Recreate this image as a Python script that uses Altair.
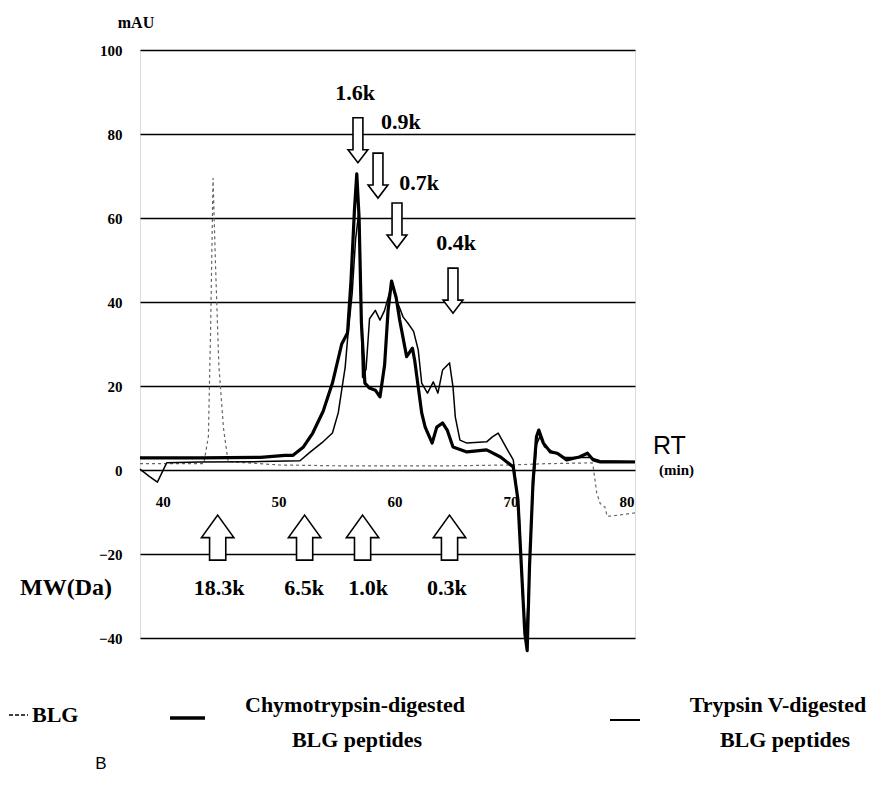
import altair as alt
import pandas as pd

# ---------------- data ----------------
blg_t = [38.0, 43.5, 43.9, 44.1, 44.3, 44.5, 44.8, 45.2, 45.6, 50.0, 55.0, 60.0, 65.0, 70.0, 73.0,
         77.0, 77.1, 77.4, 77.7, 78.1, 78.3, 78.5, 79.4, 80.7]
blg_y = [1.5, 1.5, 8, 35, 69.5, 50, 25, 10, 2, 1.2, 1.0, 1.0, 1.0, 1.2, 1.5,
         1.7, 0.7, -5.5, -8, -8.8, -11, -11, -10.7, -10.2]

chy_t = [38.0, 43.2, 48.4, 50.5, 51.2, 52.1, 52.9, 53.8, 54.6, 55.4, 55.9, 56.2, 56.5, 56.7, 56.9,
         57.1, 57.4, 57.8, 58.3, 58.7, 59.1, 59.4, 59.7, 60.1, 60.4, 61.0, 61.5, 61.7, 62.0, 62.3,
         62.6, 63.2, 63.6, 64.1, 64.5, 65.0, 66.2, 67.9, 69.1, 70.2, 70.6, 70.9, 71.2, 71.4, 71.6,
         71.9, 72.2, 72.4, 72.8, 73.4, 74.0, 74.8, 75.9, 76.6, 77.1, 77.7, 80.7]
chy_y = [2.9, 2.9, 3.0, 3.5, 3.5, 5.5, 8.8, 14, 20.7, 30, 32.6, 45, 62, 70.5, 60,
         35, 20.7, 19.5, 19, 17.4, 25, 38, 45, 41, 35.7, 27, 29, 26, 19.8, 13.6,
         10.2, 6.4, 10.2, 11.2, 9.5, 5.5, 4.3, 4.8, 3.1, 0.7, -7, -23, -39, -43, -23,
         -3, 7.9, 9.5, 6.4, 4.3, 4.0, 2.4, 3.1, 4.0, 2.4, 1.9, 1.9]

try_t = [38.0, 38.8, 39.5, 40.3, 43.2, 48.4, 51.8, 52.7, 53.7, 54.6, 55.1, 55.7, 55.9, 56.3, 56.6,
         56.9, 57.05, 57.2, 57.5, 57.8, 58.3, 58.7, 59.1, 59.6, 59.8, 60.2, 60.7, 61.1, 61.6, 62.0,
         62.3, 62.8, 63.3, 63.7, 64.1, 64.7, 65.0, 65.2, 65.6, 66.2, 67.9, 68.4, 68.9, 69.7, 70.2,
         70.7, 71.0, 71.3, 71.5, 71.9, 72.2, 72.5, 72.9, 73.6, 74.6, 76.8, 77.7, 80.7]
try_y = [0.2, -1.5, -2.9, 1.7, 1.9, 2.0, 2.2, 4.3, 6.5, 8.8, 13.6, 24.5, 31, 42, 55,
         62, 40, 22, 24, 36, 38, 35.7, 38, 43, 44, 40, 36.4, 35, 33, 28.6,
         20.7, 18.3, 21, 18.3, 23.8, 25.5, 19.8, 12.6, 7.1, 6.4, 6.7, 7.9, 8.8, 4.8, 2.4,
         -10, -30, -40, -30, -5, 6, 8, 5.5, 4.3, 3.0, 3.0, 2.2, 2.0]

y_ticks = [-40, -20, 0, 20, 40, 60, 80, 100]
x_ticks = [40, 50, 60, 70, 80]
x_tick_level = -7.5

# molecular-weight markers (top: down arrows, bottom: up arrows)
down_rt = [56.8, 58.53, 60.17, 65.0]
down_mid = [78.5, 70.1, 58.2, 42.7]
down_lbl = ["1.6k", "0.9k", "0.7k", "0.4k"]
down_lbl_rt = [56.55, 60.5, 62.07, 65.26]
down_lbl_y = [89.8, 82.9, 68.3, 54.0]

up_rt = [44.7, 52.2, 57.2, 64.7]
up_lbl = ["18.3k", "6.5k", "1.0k", "0.3k"]
up_lbl_rt = [44.83, 52.16, 57.67, 64.48]
up_mid = -16.1
up_lbl_y = -28.1

# ---------------- chart ----------------
SERIF = "Liberation Serif"
SANS = "Liberation Sans"

X = alt.X("t:Q", scale=alt.Scale(domain=[38.0, 80.7], nice=False, zero=False), axis=None)
Y = alt.Y("v:Q", scale=alt.Scale(domain=[-40, 100], nice=False, zero=False),
          axis=alt.Axis(values=y_ticks, grid=True, gridColor="black", gridWidth=1.6,
                        gridOpacity=1, tickSize=0, domain=False, title=None,
                        labelFont=SERIF, labelFontWeight="bold", labelFontSize=15,
                        labelColor="black", labelPadding=18))

def df(t, v, **extra):
    d = pd.DataFrame({"t": t, "v": v})
    for k, val in extra.items():
        d[k] = val
    return d

blg = alt.Chart(df(blg_t, blg_y)).mark_line(
    color="#666666", strokeWidth=1.2, strokeDash=[3, 3]).encode(x=X, y=Y)

xlab = alt.Chart(df(x_ticks, [x_tick_level] * len(x_ticks), lab=[str(v) for v in x_ticks])).mark_text(
    font=SERIF, fontWeight="bold", fontSize=15, color="black").encode(x=X, y=Y, text="lab:N")

tryp = alt.Chart(df(try_t, try_y)).mark_line(
    color="black", strokeWidth=1.5, strokeJoin="round").encode(x=X, y=Y)

chy = alt.Chart(df(chy_t, chy_y)).mark_line(
    color="black", strokeWidth=3.2, strokeJoin="round").encode(x=X, y=Y)

DOWN = "M -0.22 -1 L 0.22 -1 L 0.22 0.42 L 0.44 0.42 L 0 1 L -0.44 0.42 L -0.22 0.42 Z"
UP = "M 0 -1 L 0.72 0 L 0.36 0 L 0.36 1 L -0.36 1 L -0.36 0 L -0.72 0 Z"

down_arrows = alt.Chart(df(down_rt, down_mid)).mark_point(
    shape=DOWN, size=2025, filled=True, fill="white", stroke="black",
    strokeWidth=1.6, opacity=1).encode(x=X, y=Y)
up_arrows = alt.Chart(df(up_rt, [up_mid] * len(up_rt))).mark_point(
    shape=UP, size=2025, filled=True, fill="white", stroke="black",
    strokeWidth=1.6, opacity=1).encode(x=X, y=Y)

down_text = alt.Chart(df(down_lbl_rt, down_lbl_y, lab=down_lbl)).mark_text(
    font=SERIF, fontWeight="bold", fontSize=22, color="black").encode(x=X, y=Y, text="lab:N")
up_text = alt.Chart(df(up_lbl_rt, [up_lbl_y] * len(up_lbl_rt), lab=up_lbl)).mark_text(
    font=SERIF, fontWeight="bold", fontSize=22, color="black").encode(x=X, y=Y, text="lab:N")

# plot origin is at page (140, 50); these helpers take offsets from it
def label(text, x, y, size, font=SERIF, weight="bold", align="center"):
    return alt.Chart(pd.DataFrame({"lab": [text]})).mark_text(
        font=font, fontWeight=weight, fontSize=size, color="black", align=align,
        baseline="middle").encode(x=alt.value(x), y=alt.value(y), text="lab:N")

def seg(x1, x2, y, width, dash=None):
    kw = dict(color="black", strokeWidth=width)
    if dash:
        kw["strokeDash"] = dash
    return alt.Chart(pd.DataFrame({"a": [0]})).mark_rule(**kw).encode(
        x=alt.value(x1), x2=alt.value(x2), y=alt.value(y))

texts = [
    label("mAU", -4, -27, 16),
    label("MW(Da)", -74, 538, 24),
    label("RT", 513, 396, 25, font=SANS, weight="normal", align="left"),
    label("(min)", 519, 420, 15, align="left"),
    seg(-131, -112, 665, 1.5, dash=[4, 2]),
    label("BLG", -108, 665, 22, align="left"),
    seg(30, 65, 668, 3.5),
    label("Chymotrypsin-digested", 215, 655, 22),
    label("BLG peptides", 217, 690, 22),
    seg(470, 500, 670, 2),
    label("Trypsin V-digested", 638, 655, 22),
    label("BLG peptides", 645, 690, 22),
    label("B", -39, 714, 17, font=SANS, weight="normal"),
]

chart = alt.layer(
    blg, xlab, tryp, chy, down_arrows, up_arrows, down_text, up_text, *texts
).properties(
    width=495, height=588,
    autosize=alt.AutoSizeParams(type="none"),
    padding={"left": 132, "top": 42, "right": 240, "bottom": 140},
).configure_view(stroke="black", strokeWidth=2.2).configure(background="white")

chart.save("out.html", embed_options={"renderer": "svg", "actions": False})
